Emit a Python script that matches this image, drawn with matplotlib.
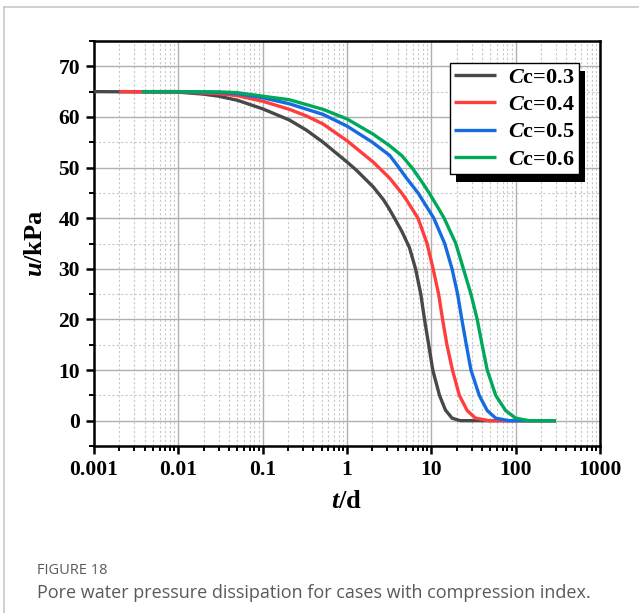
import numpy as np
import matplotlib.pyplot as plt
from matplotlib.ticker import FixedLocator, FuncFormatter, MultipleLocator, NullFormatter
from matplotlib.patches import Rectangle
from matplotlib.lines import Line2D

plt.rcParams['font.family'] = 'Liberation Serif'
plt.rcParams['font.weight'] = 'bold'
plt.rcParams['mathtext.fontset'] = 'custom'
plt.rcParams['mathtext.it'] = 'Liberation Serif:italic:bold'
plt.rcParams['mathtext.rm'] = 'Liberation Serif:bold'

# values (t in days, u in kPa)
t_03 = [0.001, 0.01, 0.02, 0.03, 0.05, 0.1, 0.207, 0.33, 0.52, 1, 1.29, 2.04, 2.69, 3.1, 3.66, 4.5,
        5.5, 6.5, 7.5, 8.3, 9.3, 10.4, 12.5, 14.7, 17.6, 22, 300]
u_03 = [65, 64.9, 64.5, 64.1, 63.3, 61.6, 59.4, 57.4, 55.0, 51.1, 49.5, 46.2, 43.7, 42.1, 40.0, 37.3,
        34.2, 30, 25, 20, 15, 10, 5, 2.1, 0.5, 0, 0]

t_04 = [0.002, 0.01, 0.03, 0.05, 0.1, 0.207, 0.33, 0.52, 1, 2.04, 3.21, 4.48, 5.08, 6.95, 8.9,
        10.5, 12.2, 13.6, 15.3, 17.8, 21.5, 26.6, 33.4, 48, 300]
u_04 = [65, 64.95, 64.6, 64.2, 63.1, 61.5, 60.2, 58.6, 55.3, 51.1, 47.9, 44.9, 43.6, 40, 35,
        30, 25, 20, 15, 10, 5, 2, 0.5, 0, 0]

t_05 = [0.0037, 0.01, 0.03, 0.05, 0.1, 0.207, 0.52, 1, 2.0, 3.21, 4.0, 5.08, 6.95, 10.7, 14.4,
        17.6, 20.5, 23, 26, 29.5, 37, 46, 58, 83, 300]
u_05 = [65, 65, 64.85, 64.6, 63.8, 62.6, 60.5, 58.2, 55.0, 52.4, 50.3, 47.9, 45, 40, 35,
        30, 25, 20, 15, 10, 5, 2, 0.5, 0, 0]

t_06 = [0.0037, 0.01, 0.03, 0.05, 0.1, 0.207, 0.52, 1, 2.04, 3.21, 4.5, 6.0, 8.0, 9.4, 11.5, 14.2,
        19.5, 24, 29.5, 35, 40, 46, 58, 76, 100, 144, 300]
u_06 = [65, 65, 64.95, 64.8, 64.1, 63.4, 61.5, 59.6, 56.6, 54.3, 52.3, 49.8, 46.8, 45, 42.6, 40,
        35, 30, 25, 20, 15, 10, 5, 2, 0.5, 0, 0]

labels = [r'$C$c=0.3', r'$C$c=0.4', r'$C$c=0.5', r'$C$c=0.6']
colors = ['#484848', '#ff3d3d', '#156be0', '#00a85c']
series = [(t_03, u_03), (t_04, u_04), (t_05, u_05), (t_06, u_06)]
xticks = [0.001, 0.01, 0.1, 1, 10, 100, 1000]
yticks = [0, 10, 20, 30, 40, 50, 60, 70]

fig = plt.figure(figsize=(6.39, 6.13), dpi=100)
ax = fig.add_axes([94 / 639, 167 / 613, 506 / 639, 405 / 613])

for (t, u), c, lab in zip(series, colors, labels):
    ax.plot(t, u, color=c, lw=2.4, label=lab, solid_joinstyle='round', solid_capstyle='butt', zorder=3)

ax.set_xscale('log')
ax.set_xlim(0.001, 1000)
ax.set_ylim(-5, 75)
minors = [m * 10.0 ** e for e in range(-3, 3) for m in range(2, 10)]
ax.xaxis.set_major_locator(FixedLocator(xticks))
ax.xaxis.set_minor_locator(FixedLocator(minors))
ax.xaxis.set_major_formatter(FuncFormatter(lambda v, p: '%g' % v))
ax.xaxis.set_minor_formatter(NullFormatter())
ax.set_yticks(yticks)
ax.yaxis.set_minor_locator(MultipleLocator(5))

ax.grid(True, which='major', color='#b0b0b0', lw=1.0, ls='-', zorder=1)
ax.grid(True, which='minor', color='#c8c8c8', lw=0.8, ls=(0, (2, 2)), zorder=1)

for s in ax.spines.values():
    s.set_linewidth(1.8)
    s.set_color('black')
ax.tick_params(which='major', direction='out', length=6, width=1.8, labelsize=15.5, pad=4)
ax.tick_params(which='minor', direction='out', length=3.5, width=1.4)
for lab in ax.get_xticklabels() + ax.get_yticklabels():
    lab.set_fontweight('bold')

ax.set_xlabel(r'$t$/d', fontsize=19, fontweight='bold', labelpad=7)
ax.set_ylabel(r'$u$/kPa', fontsize=19, fontweight='bold', labelpad=8)

leg = ax.legend(loc='upper right', bbox_to_anchor=(0.958, 0.946), fancybox=False,
                edgecolor='black', framealpha=1, fontsize=16, handlelength=1.9,
                borderpad=0.2, labelspacing=0.3, handletextpad=0.5, borderaxespad=0)
leg.get_frame().set_linewidth(1.0)
leg.set_zorder(6)

fig.canvas.draw()
bb = leg.get_window_extent()
shadow = Rectangle((bb.x0 + 6, bb.y0 - 8), bb.width, bb.height, transform=None,
                   facecolor='black', edgecolor='none', zorder=5)
ax.add_artist(shadow)

# page frame
fig.add_artist(Line2D([4 / 639, 4 / 639], [0, 1 - 7 / 613], color='#c8c8c8', lw=1.2))
fig.add_artist(Line2D([4 / 639, 1], [1 - 7 / 613, 1 - 7 / 613], color='#c8c8c8', lw=1.2))

fig.text(37 / 639, 1 - 570 / 613, 'FIGURE 18', family='Open Sans', fontweight='normal',
         fontsize=10.5, color='#5a5a5a', va='center')
fig.text(37 / 639, 1 - 593 / 613, 'Pore water pressure dissipation for cases with compression index.',
         family='Open Sans', fontweight='normal', fontsize=13.0, color='#5a5a5a', va='center')

fig.savefig('out.png', dpi=100)
